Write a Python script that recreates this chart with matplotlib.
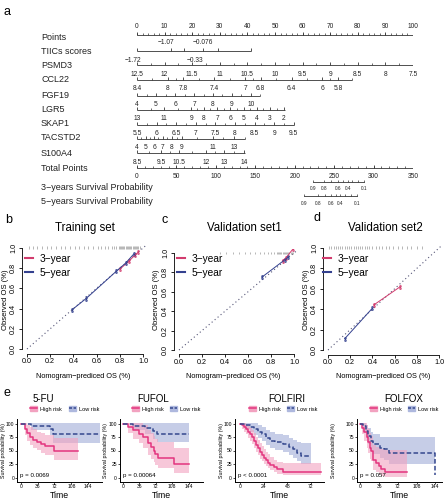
import matplotlib
matplotlib.use("Agg")
import matplotlib.pyplot as plt
from matplotlib.patches import Patch
from matplotlib.lines import Line2D
import numpy as np

plt.rcParams['font.family'] = ['Liberation Sans', 'DejaVu Sans']
plt.rcParams['axes.unicode_minus'] = True

W, H = 447, 500
fig = plt.figure(figsize=(W / 100, H / 100), dpi=100)


def add_ax(l, t, r, b):
    return fig.add_axes([l / W, 1 - b / H, (r - l) / W, (b - t) / H])


def ftext(x, y, s, **kw):
    fig.text(x / W, 1 - y / H, s, **kw)


# ---------------- data: nomogram ----------------
points_vals = list(range(0, 101, 10))
tiics_labels = ['−1.07', '−0.076']
tiics_pts = [10.5, 24]
tiics_ticks = [0, 12.3, 17, 24, 29.3, 41.3]
psmd3_labels = ['−1.72', '−0.33']
psmd3_pts = [-1.5, 21]
ccl22_labels = ['12.5', '12', '11.5', '11', '10.5', '10', '9.5', '9', '8.5', '8', '7.5']
ccl22_pts = [0, 10, 20, 30, 40, 50, 60, 70, 80, 90, 100]
fgf19_labels = ['8.4', '8', '7.8', '7.4', '7', '6.8', '6.4', '6', '5.8']
fgf19_pts = [0, 11.2, 16.8, 28, 39.2, 44.8, 56, 67.2, 72.8]
lgr5_labels = ['4', '5', '6', '7', '8', '9', '10']
lgr5_pts = [0, 6.9, 13.8, 20.7, 27.5, 34.4, 41.3]
skap1_labels = ['13', '11', '9', '8', '7', '6', '5', '4', '3', '2']
skap1_pts = [0, 9.8, 19.6, 24.2, 29, 33.7, 38.6, 43.4, 48.2, 53.1]
tacstd2_labels = ['5.5', '6', '6.5', '7', '7.5', '8', '8.5', '9', '9.5']
tacstd2_pts = [0, 7.1, 14.2, 21.3, 28.4, 35.5, 42.6, 49.7, 56.8]
s100a4_labels = ['4', '5', '6', '7', '8', '9', '11', '13']
s100a4_pts = [0, 3.2, 6.2, 9.3, 12.7, 16.2, 27.5, 35.1]
extra_labels = ['8.5', '9.5', '10.5', '12', '13', '14']
extra_pts = [0, 8.7, 15.2, 25, 31.5, 38.8]
total_points = list(range(0, 351, 50))
surv3_all_tp = [223, 237, 246, 255, 261.5, 267.6, 273, 280, 288]
surv3_labels = ['0.9', '0.8', '', '0.6', '', '0.4', '', '', '0.1']
surv5_all_tp = [211.7, 229.5, 238, 246, 252, 257.4, 264, 271, 279]
surv5_labels = ['0.9', '0.8', '', '0.6', '', '0.4', '', '', '0.1']
row_names = ['Points', 'TIICs scores', 'PSMD3', 'CCL22', 'FGF19', 'LGR5', 'SKAP1',
             'TACSTD2', 'S100A4', 'Total Points', '3−years Survival Probability',
             '5−years Survival Probability']

# layout (pixel rows)
name_y = [37, 51, 66, 80, 95, 109, 124, 138, 153, 168, 188, 202]
line_y = [35, 51, 65, 80, 96, 110, 125, 139, 153, 168]
line_end = [100, 41.3, 100, 77.9, 44.6, 53.6, 56.8, 39, 39, 100]
lab_rows = [
    (27, [str(v) for v in points_vals], points_vals),
    (42, tiics_labels, tiics_pts),
    (60, psmd3_labels, psmd3_pts),
    (75, ccl22_labels, ccl22_pts),
    (89, fgf19_labels, fgf19_pts),
    (104, lgr5_labels, lgr5_pts),
    (119, skap1_labels, skap1_pts),
    (134, tacstd2_labels, tacstd2_pts),
    (148, s100a4_labels, s100a4_pts),
    (163, extra_labels, extra_pts),
]
line_ticks = [
    points_vals,
    tiics_ticks,
    ccl22_pts,
    fgf19_pts,
    lgr5_pts,
    skap1_pts,
    tacstd2_pts,
    s100a4_pts,
    extra_pts,
    [t * 100 / 350 for t in range(0, 351, 50)],
]
line_minor = [
    list(np.arange(0, 100.1, 2)),
    [],
    list(np.arange(5, 100, 10)),
    None, None, None, None, None, None,
    [t * 100 / 350 for t in range(0, 351, 10)],
]

ax_a = add_ax(137, 0, 413, 215)
ax_a.set_xlim(0, 100)
ax_a.set_ylim(215, 0)
ax_a.axis('off')
lc = '#333333'
for i, (y, end) in enumerate(zip(line_y, line_end)):
    ax_a.plot([0, end], [y, y], color=lc, lw=0.6, solid_capstyle='butt')
    maj = line_ticks[i]
    ax_a.vlines(maj, y - 2.6, y, color=lc, lw=0.6)
    mn = line_minor[i]
    if mn is None:
        mn = [(a + b) / 2 for a, b in zip(maj[:-1], maj[1:])]
        if end > maj[-1] + 1:
            mn = mn + [end]
    ax_a.vlines(mn, y - 1.5, y, color=lc, lw=0.5)
for (y, labs, pts) in lab_rows:
    for lab, p in zip(labs, pts):
        ax_a.text(p, y, lab, ha='center', va='center', fontsize=4.8, color='#222222')
for tp in total_points:
    ax_a.text(tp * 100 / 350, 177, str(tp), ha='center', va='center', fontsize=4.8, color='#222222')

for y, tps, labs, ly in [(182, surv3_all_tp, surv3_labels, 189), (196, surv5_all_tp, surv5_labels, 204)]:
    xs = [t * 100 / 350 for t in tps]
    ax_a.plot([xs[0], xs[-1]], [y, y], color=lc, lw=0.6)
    ax_a.vlines(xs, y - 2.2, y, color=lc, lw=0.5)
    for x, lab in zip(xs, labs):
        if lab:
            ax_a.text(x, ly, lab, ha='center', va='center', fontsize=3.4, color='#222222')

for name, y in zip(row_names, name_y):
    ftext(41, y, name, ha='left', va='center', fontsize=6.5, color='#222222')
ftext(4, 12, 'a', fontsize=9, va='center', ha='left')

# ---------------- data: calibration ----------------
cal_titles = ['Training set', 'Validation set1', 'Validation set2']
cal3_x = [[0.80, 0.88, 0.93, 0.96], [0.90, 0.93, 0.99], [0.41, 0.65]]
cal3_y = [[0.79, 0.87, 0.93, 0.96], [0.92, 0.95, 1.04], [0.44, 0.62]]
cal5_x = [[0.39, 0.51, 0.77, 0.85, 0.92], [0.72, 0.92, 0.95], [0.15, 0.40]]
cal5_y = [[0.39, 0.50, 0.77, 0.85, 0.94], [0.75, 0.93, 0.96], [0.11, 0.41]]
rug_b = [0.02, 0.05, 0.09, 0.13, 0.17, 0.21, 0.25, 0.29, 0.33, 0.37, 0.41, 0.45, 0.49,
         0.53, 0.57, 0.61, 0.64, 0.67, 0.70, 0.73, 0.75, 0.77, 0.79, 0.80, 0.81, 0.82,
         0.83, 0.84, 0.85, 0.86, 0.87, 0.88, 0.89, 0.90, 0.91, 0.92, 0.93, 0.94, 0.95,
         0.96, 0.97]
rug_c = [0.36, 0.41, 0.47, 0.52, 0.57, 0.62, 0.66, 0.70, 0.74, 0.77, 0.80, 0.83, 0.85,
         0.86, 0.87, 0.88, 0.89, 0.90, 0.91, 0.92, 0.93, 0.94, 0.95, 0.96, 0.97, 0.98, 0.99]
rug_d = [0.01, 0.03, 0.05, 0.07, 0.09, 0.11, 0.13, 0.15, 0.17, 0.19, 0.21, 0.23, 0.25,
         0.27, 0.29, 0.31, 0.33, 0.35, 0.37, 0.40, 0.43, 0.46, 0.49, 0.52, 0.55, 0.59,
         0.63, 0.67, 0.71, 0.75, 0.80, 0.85]
rugs = [rug_b, rug_c, rug_d]
col3 = '#D23C6E'
col5 = '#34418F'

# layout: (x0px, x1px, y0px, y1px) for 0 and 1 on both axes
cal_geom = [(27, 143, 349, 248), (179, 294, 350, 253), (328, 439, 350, 248)]
letters = [('b', 5, 220), ('c', 161, 220), ('d', 314, 218)]
title_x = [85, 244, 385]
leg_x = [25, 177, 323]
ylab_x = [6, 157, 306]
xlab_x = [83, 233, 383]

for k in range(3):
    x0, x1, y0, y1 = cal_geom[k]
    sx = (x1 - x0)
    sy = (y0 - y1)
    lo, hi = -0.045, 1.045
    ax = add_ax(x0 + lo * sx, y1 - (hi - 1) * sy, x0 + hi * sx, y0 - lo * sy)
    ax.set_xlim(lo, hi)
    ax.set_ylim(lo, hi)
    for s in ['top', 'right']:
        ax.spines[s].set_visible(False)
    ax.spines['left'].set_bounds(0, 1)
    ax.spines['bottom'].set_bounds(0, 1)
    for s in ['left', 'bottom']:
        ax.spines[s].set_linewidth(0.6)
    ax.set_xticks([0, 0.2, 0.4, 0.6, 0.8, 1.0])
    ax.set_yticks([0, 0.2, 0.4, 0.6, 0.8, 1.0])
    ax.set_xticklabels(['0.0', '0.2', '0.4', '0.6', '0.8', '1.0'], fontsize=5.2)
    ax.set_yticklabels(['0.0', '0.2', '0.4', '0.6', '0.8', '1.0'], fontsize=5.2,
                       rotation=90, va='center')
    ax.tick_params(length=2, width=0.6, pad=1.5)
    ax.patch.set_alpha(0)
    ax.plot([0, 1.02], [0, 1.02], linestyle=(0, (1, 2.5)), color='#555577', lw=0.8)
    ax.vlines(rugs[k], 0.99, 1.015, color='#9a9a9a', lw=0.5)
    ax.errorbar(cal3_x[k], cal3_y[k], yerr=0.02, fmt='-', marker='x', ms=1.8, mew=0.5,
                color=col3, lw=0.7, elinewidth=0.5, capsize=0.8, capthick=0.5)
    ax.errorbar(cal5_x[k], cal5_y[k], yerr=0.02, fmt='-', marker='x', ms=1.8, mew=0.5,
                color=col5, lw=0.7, elinewidth=0.5, capsize=0.8, capthick=0.5)
    L, X, Y = letters[k]
    ftext(X, Y, L, fontsize=9, ha='left', va='center')
    ftext(title_x[k], 228, cal_titles[k], fontsize=8.3, ha='center', va='center')
    ftext(xlab_x[k], 377, 'Nomogram−prediced OS (%)', fontsize=5.3, ha='center', va='center')
    ftext(ylab_x[k], 300, 'Observed OS (%)', fontsize=5.5, ha='center', va='center',
          rotation=90)
    h = [Line2D([0], [0], color=col3, lw=1.5), Line2D([0], [0], color=col5, lw=1.5)]
    ax.legend(h, ['3−year', '5−year'], loc='upper left',
              bbox_to_anchor=(leg_x[k] / W, 1 - 254 / H), bbox_transform=fig.transFigure,
              frameon=False, fontsize=7.3, handlelength=0.8, handletextpad=0.6,
              labelspacing=0.35, borderpad=0, borderaxespad=0)

# ---------------- data: KM ----------------
km_titles = ['5-FU', 'FUFOL', 'FOLFIRI', 'FOLFOX']
km_pvals = ['p = 0.0069', 'p = 0.00064', 'p < 0.0001', 'p = 0.057']
km_xticks = [[0, 36, 72, 108, 144], [0, 36, 72, 108, 144], [0, 24, 48, 72], [0, 36, 72, 108, 144]]

fu_hi_t = [0, 9, 14, 20, 27, 34, 43, 52, 70, 123]
fu_hi_s = [100, 90, 82, 75, 70, 65, 62, 58, 50, 50]
fu_hi_lo = [100, 78, 68, 60, 55, 50, 46, 42, 33, 33]
fu_hi_up = [100, 100, 97, 93, 89, 85, 82, 79, 73, 73]
fu_lo_t = [0, 22, 62, 68, 170]
fu_lo_s = [100, 96, 89, 80, 80]
fu_lo_lo = [100, 88, 78, 63, 63]
fu_lo_up = [100, 100, 100, 100, 100]

ff_hi_t = [0, 12, 23, 34, 44, 55, 62, 68, 71, 76, 111, 144]
ff_hi_s = [100, 94, 88, 81, 75, 63, 56, 50, 44, 37, 25, 25]
ff_hi_lo = [100, 82, 72, 63, 55, 42, 35, 29, 24, 18, 9, 9]
ff_hi_up = [100, 100, 100, 100, 97, 88, 82, 77, 72, 65, 55, 55]
ff_lo_t = [0, 22, 48, 65, 75, 144]
ff_lo_s = [100, 96, 91, 86, 81, 81]
ff_lo_lo = [100, 88, 80, 72, 65, 65]
ff_lo_up = [100, 100, 100, 100, 100, 100]

fi_hi_t = [0, 2, 4, 6, 8, 10, 12, 14, 16, 18, 20, 22, 24, 26, 28, 30, 34, 38, 44, 82]
fi_hi_s = [100, 97, 94, 90, 85, 80, 75, 68, 60, 54, 47, 42, 37, 32, 27, 23, 19, 15, 10, 10]
fi_hi_lo = [100, 90, 85, 80, 74, 68, 62, 55, 47, 41, 35, 30, 25, 21, 17, 14, 10, 7, 4, 4]
fi_hi_up = [100, 100, 100, 99, 96, 92, 88, 82, 75, 69, 63, 58, 53, 48, 43, 38, 33, 29, 26, 26]
fi_lo_t = [0, 5, 10, 14, 18, 22, 26, 30, 36, 44, 50, 54, 58, 62, 72]
fi_lo_s = [100, 97, 93, 90, 85, 80, 74, 68, 65, 62, 57, 52, 46, 40, 40]
fi_lo_lo = [100, 90, 84, 79, 73, 67, 60, 54, 50, 47, 42, 37, 31, 25, 25]
fi_lo_up = [100, 100, 100, 100, 97, 93, 88, 84, 81, 78, 74, 70, 66, 63, 63]

fx_hi_t = [0, 4, 8, 12, 15, 18, 21, 24, 30, 36, 40, 48, 90]
fx_hi_s = [100, 92, 84, 75, 65, 55, 50, 32, 27, 22, 16, 10, 10]
fx_hi_lo = [100, 80, 68, 55, 45, 35, 30, 14, 10, 6, 3, 0, 0]
fx_hi_up = [100, 100, 100, 98, 90, 82, 77, 60, 57, 54, 52, 50, 50]
fx_lo_t = [0, 5, 10, 15, 20, 25, 38, 45, 55, 144, 144]
fx_lo_s = [100, 95, 87, 77, 67, 62, 55, 52, 45, 45, 5]
fx_lo_lo = [100, 85, 74, 62, 50, 44, 36, 32, 25, 25, 25]
fx_lo_up = [100, 100, 98, 92, 85, 80, 75, 75, 75, 75, 75]

km_data = [
    (fu_hi_t, fu_hi_s, fu_hi_lo, fu_hi_up, fu_lo_t, fu_lo_s, fu_lo_lo, fu_lo_up),
    (ff_hi_t, ff_hi_s, ff_hi_lo, ff_hi_up, ff_lo_t, ff_lo_s, ff_lo_lo, ff_lo_up),
    (fi_hi_t, fi_hi_s, fi_hi_lo, fi_hi_up, fi_lo_t, fi_lo_s, fi_lo_lo, fi_lo_up),
    (fx_hi_t, fx_hi_s, fx_hi_lo, fx_hi_up, fx_lo_t, fx_lo_s, fx_lo_lo, fx_lo_up),
]
col_hi = '#E3347E'
col_lo = '#34478E'
fill_hi = '#F2A2C0'
fill_lo = '#AEB8DE'

# layout: spine x, x px of t=0, px per month, right px
km_geom = [(17, 20.7, 0.4694, 102), (119.5, 123, 0.456, 203),
           (234.7, 240, 0.986, 323.7), (357, 360.3, 0.521, 442)]
km_title_x = [43, 153, 287, 404]
km_leg_x = [64.5, 166, 283, 404]
km_ylab_x = [4, 106, 221, 334]
km_top, km_bot = 419, 481.5
y100, y0 = 423.5, 477.5
pps = (y0 - y100) / 100

for k in range(4):
    sp, x0p, ppm, rp = km_geom[k]
    ax = add_ax(sp, km_top, rp, km_bot)
    ax.set_xlim(-(x0p - sp) / ppm, (rp - x0p) / ppm)
    ax.set_ylim(-(km_bot - y0) / pps, 100 + (y100 - km_top) / pps)
    for s in ['top', 'right']:
        ax.spines[s].set_visible(False)
    for s in ['left', 'bottom']:
        ax.spines[s].set_linewidth(0.7)
    ht, hs, hl, hu, lt, ls, ll, lu = km_data[k]
    ax.fill_between(lt, ll, lu, step='post', color=fill_lo, alpha=0.7, lw=0)
    ax.fill_between(ht, hl, hu, step='post', color=fill_hi, alpha=0.6, lw=0)
    ax.step(ht, hs, where='post', color=col_hi, lw=1.1)
    ax.step(lt, ls, where='post', color=col_lo, lw=1.1, linestyle=(0, (3, 1.5)))
    ax.set_xticks(km_xticks[k])
    ax.set_yticks([0, 25, 50, 75, 100])
    ax.tick_params(labelsize=3.6, length=1.2, width=0.5, pad=0.8)
    ax.patch.set_alpha(0)
    ax.text(0.04, 0.1, km_pvals[k], transform=ax.transAxes, fontsize=4.4, ha='left',
            va='center')
    ftext((sp + rp) / 2, 495.5, 'Time', fontsize=6.3, ha='center', va='center')
    ftext(km_ylab_x[k], 451, 'Survival probability (%)', fontsize=3.8,
          ha='center', va='center', rotation=90)
    ftext(km_title_x[k], 399, km_titles[k], fontsize=7, ha='center', va='center')
    hh = (Patch(color=fill_hi), Line2D([0], [0], color=col_hi, lw=1.1))
    hl_ = (Patch(color=fill_lo), Line2D([0], [0], color=col_lo, lw=1.1, linestyle=(0, (2, 1))))
    ax.legend([hh, hl_], ['High risk', 'Low risk'], loc='center',
              bbox_to_anchor=(km_leg_x[k] / W, 1 - 409 / H), bbox_transform=fig.transFigure,
              ncol=2, frameon=False, fontsize=4, handlelength=1.3, handleheight=0.8,
              columnspacing=1.2, handletextpad=0.5, borderpad=0)

ftext(4, 393, 'e', fontsize=9, ha='left', va='center')

fig.savefig('out.png', dpi=100)
